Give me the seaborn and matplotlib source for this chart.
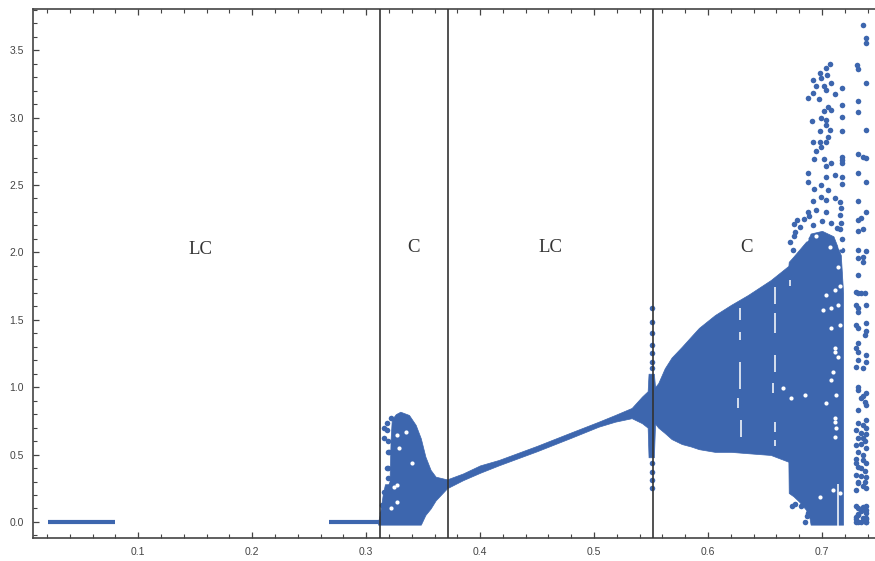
import pandas as pd
import matplotlib
matplotlib.use("Agg")
import matplotlib.pyplot as plt
from matplotlib.ticker import MultipleLocator
import seaborn as sns

BLUE = "#3D66AE"
DARK = "#444444"

# flat limit-cycle segments
flat1_x = [0.0208, 0.0794]
flat2_x = [0.2676, 0.3114]
flat_y = [0.0, 0.0]

# chaotic blob 0.31 - 0.37 and the band that follows it
band_x = [0.3105, 0.3125, 0.3145, 0.3165, 0.3195, 0.3205, 0.3215, 0.3225, 0.326, 0.33, 0.3376, 0.3435, 0.348,
          0.352, 0.3566, 0.361, 0.371, 0.385, 0.40, 0.4164, 0.45, 0.48, 0.504, 0.5185, 0.533, 0.542,
          0.547, 0.5478, 0.5525, 0.5535, 0.5563, 0.562, 0.568, 0.577, 0.585, 0.592, 0.606, 0.62, 0.635, 0.655, 0.6705,
          0.6708, 0.675, 0.68, 0.686, 0.689, 0.69, 0.70, 0.71, 0.7165, 0.7185]
band_hi = [0.0, 0.08, 0.2, 0.28, 0.28, 0.30, 0.62, 0.76, 0.80, 0.818, 0.794, 0.72, 0.62,
           0.485, 0.386, 0.336, 0.316, 0.36, 0.42, 0.46, 0.565, 0.665, 0.744, 0.794, 0.846, 0.93,
           0.97, 1.1, 1.1, 1.0, 1.03, 1.14, 1.22, 1.30, 1.375, 1.44, 1.535, 1.61, 1.684, 1.795, 1.90,
           1.93, 1.97, 2.02, 2.08, 2.12, 2.14, 2.16, 2.12, 1.98, 1.7]
band_lo = [-0.02, -0.02, -0.02, -0.02, -0.02, -0.02, -0.02, -0.02, -0.02, -0.02, -0.02, -0.02, -0.02,
           0.052, 0.10, 0.16, 0.25, 0.31, 0.365, 0.42, 0.525, 0.625, 0.707, 0.744, 0.77, 0.733,
           0.70, 0.48, 0.48, 0.73, 0.70, 0.66, 0.615, 0.578, 0.56, 0.54, 0.52, 0.52, 0.51, 0.497, 0.447,
           0.215, 0.19, 0.15, 0.09, 0.03, -0.02, -0.02, -0.02, -0.02, -0.02]

# scattered orbit points, (x, y)
crisis_dots = [(0.5507, v) for v in (1.585, 1.486, 1.399, 1.313, 1.251, 1.189, 1.14, 0.44, 0.373, 0.311, 0.25)]
right_dots = [
    (0.7359, 3.687), (0.7382, 3.588), (0.7382, 3.555), (0.7309, 3.39), (0.7315, 3.358), (0.7382, 3.254),
    (0.7315, 3.123), (0.7315, 3.039), (0.7382, 2.908), (0.7315, 2.73), (0.7359, 2.71), (0.7388, 2.70),
    (0.7315, 2.591), (0.7382, 2.522), (0.7315, 2.381), (0.7382, 2.297), (0.7344, 2.252), (0.7315, 2.24),
    (0.7359, 2.173), (0.7315, 2.161), (0.7315, 2.017), (0.7388, 2.012), (0.7359, 1.968), (0.7315, 1.956),
    (0.7359, 1.93), (0.7315, 1.832), (0.73, 1.708), (0.7373, 1.696), (0.7315, 1.70), (0.7344, 1.70),
    (0.73, 1.61), (0.7388, 1.61), (0.7315, 1.59), (0.7315, 1.56), (0.73, 1.461), (0.7382, 1.474),
    (0.7315, 1.44), (0.7373, 1.387), (0.7388, 1.42), (0.7315, 1.325), (0.73, 1.29), (0.7315, 1.263),
    (0.7382, 1.239), (0.7315, 1.2), (0.7388, 1.19), (0.73, 1.147), (0.7359, 1.14), (0.7315, 1.004),
    (0.7388, 0.954), (0.7344, 0.917), (0.7315, 0.831), (0.7388, 0.868), (0.7382, 0.756), (0.7315, 0.732),
    (0.7315, 0.98), (0.7359, 0.935), (0.7373, 0.89), (0.7359, 0.72), (0.7388, 0.70), (0.7344, 0.66),
    (0.73, 0.68), (0.7382, 0.65), (0.7315, 0.62), (0.7373, 0.60), (0.73, 0.57), (0.7388, 0.55),
    (0.7315, 0.52), (0.7359, 0.50), (0.73, 0.47), (0.7382, 0.44), (0.7315, 0.41), (0.7373, 0.38),
    (0.73, 0.35), (0.7388, 0.33), (0.7315, 0.30), (0.7359, 0.27), (0.73, 0.24), (0.7382, 0.25),
    (0.7344, 0.58), (0.7359, 0.46), (0.7344, 0.40), (0.7344, 0.34), (0.7359, 0.62), (0.73, 0.44),
    (0.7315, 0.29), (0.7373, 0.30), (0.73, 0.12), (0.7388, 0.09), (0.7315, 0.05), (0.7382, 0.03),
    (0.7359, 0.11), (0.7388, 0.02), (0.7315, 0.0), (0.73, 0.04), (0.7382, 0.07), (0.7315, 0.10),
    (0.7344, 0.0), (0.73, 0.02), (0.7388, 0.0), (0.7315, 0.06), (0.7359, 0.03), (0.73, 0.0), (0.7382, 0.0),
    (0.7388, 0.12), (0.7344, 0.08),
]
top_dots = [
    (0.7073, 3.395), (0.7032, 3.365), (0.698, 3.333), (0.7047, 3.316), (0.6921, 3.279), (0.6994, 3.291),
    (0.7082, 3.254), (0.695, 3.234), (0.7015, 3.234), (0.6921, 3.185), (0.7032, 3.204), (0.7178, 3.217),
    (0.7111, 3.172), (0.6878, 3.143), (0.6974, 3.135), (0.7178, 3.093), (0.7053, 3.081), (0.7015, 3.049),
    (0.7082, 3.056), (0.7178, 3.007), (0.6916, 2.974), (0.6988, 2.994), (0.7038, 2.982), (0.7038, 2.945),
    (0.698, 2.9), (0.7067, 2.908), (0.7178, 2.903), (0.7053, 2.858), (0.6921, 2.821), (0.698, 2.821),
    (0.7038, 2.821), (0.6994, 2.784), (0.695, 2.754), (0.6927, 2.692), (0.7015, 2.692), (0.7082, 2.66),
    (0.7038, 2.643), (0.7178, 2.685), (0.7178, 2.66), (0.7178, 2.71), (0.6878, 2.591), (0.6878, 2.524),
    (0.7038, 2.561), (0.7111, 2.574), (0.7178, 2.56), (0.7178, 2.51), (0.6994, 2.5), (0.6927, 2.467),
    (0.7053, 2.462), (0.6921, 2.381), (0.6994, 2.413), (0.7038, 2.388), (0.7111, 2.401), (0.7161, 2.376),
    (0.7169, 2.327), (0.716, 2.277), (0.695, 2.314), (0.6878, 2.302), (0.7038, 2.302),
    (0.684, 2.25), (0.689, 2.27), (0.672, 2.08), (0.676, 2.15), (0.6755, 2.21), (0.678, 2.24),
    (0.6755, 2.12), (0.6745, 2.02), (0.681, 2.19), (0.692, 2.20), (0.70, 2.23), (0.708, 2.22), (0.713, 2.18),
    (0.716, 2.17), (0.7175, 2.10), (0.7175, 2.02), (0.7165, 2.22),
]
lower_dots = [(0.6735, 0.12), (0.6765, 0.135), (0.682, 0.12), (0.6865, 0.045), (0.6855, 0.0), (0.688, 0.07)]
left_dots = [
    (0.3158, 0.62), (0.3187, 0.398), (0.3195, 0.40), (0.3193, 0.324), (0.3187, 0.732), (0.3216, 0.769),
    (0.3201, 0.521), (0.3188, 0.52), (0.3158, 0.694), (0.3187, 0.682), (0.3195, 0.60), (0.3158, 0.225),
    (0.3143, 0.126), (0.3143, 0.064),
]
all_dots = crisis_dots + right_dots + top_dots + lower_dots + left_dots
dots_x = [p[0] for p in all_dots]
dots_y = [p[1] for p in all_dots]

# white slits in the filled region: x, lower y, upper y
slit_x = [0.6283, 0.6283, 0.6283, 0.6265, 0.6285, 0.6587, 0.6587, 0.6587, 0.6587, 0.6587, 0.6572, 0.6717, 0.7143]
slit_lo = [1.498, 1.35, 0.99, 0.843, 0.633, 1.62, 1.40, 1.115, 0.67, 0.56, 0.955, 1.75, -0.03]
slit_hi = [1.585, 1.41, 1.19, 0.917, 0.756, 1.745, 1.55, 1.24, 0.745, 0.61, 1.03, 1.795, 0.28]

# white holes near the end of the chaotic regions
hole_x = [0.7038, 0.7111, 0.7009, 0.7082, 0.714, 0.7155, 0.7082, 0.7111, 0.714, 0.7096, 0.7082, 0.7126,
          0.6849, 0.6659, 0.6732, 0.7038, 0.7111, 0.7111, 0.7096, 0.698, 0.7155,
          0.6863, 0.7067, 0.7155, 0.714, 0.6805, 0.695, 0.7111, 0.7124, 0.7111, 0.7155,
          0.3274, 0.3353, 0.3289, 0.3274, 0.34, 0.3274, 0.3216, 0.3245]
hole_y = [1.684, 1.721, 1.572, 1.585, 1.61, 1.461, 1.436, 1.288, 1.226, 1.115, 1.053, 0.942,
          0.942, 0.991, 0.917, 0.885, 0.769, 0.633, 0.237, 0.188, 0.212,
          2.10, 2.042, 2.042, 1.894, 2.09, 2.12, 0.74, 0.70, 1.26, 1.75,
          0.645, 0.67, 0.546, 0.274, 0.435, 0.15, 0.101, 0.262]

# regime boundaries and labels
boundary_x = [0.3120, 0.3715, 0.5517]
label_text = ["LC", "C", "LC", "C"]
label_x = [0.1542, 0.3418, 0.4618, 0.634]
label_y = [2.02, 2.04, 2.04, 2.04]

x_major = [0.1, 0.2, 0.3, 0.4, 0.5, 0.6, 0.7]
y_major = [0.0, 0.5, 1.0, 1.5, 2.0, 2.5, 3.0, 3.5]

sns.set_theme(style="white")
fig = plt.figure(figsize=(8.75, 5.61), dpi=100)
ax = fig.add_axes([33 / 875, 1 - 538 / 561, 842 / 875, (538 - 9) / 561])

ax.fill_between(band_x, band_lo, band_hi, color=BLUE, lw=0.5, zorder=2)
sns.lineplot(x=flat1_x, y=flat_y, ax=ax, color=BLUE, lw=3, solid_capstyle="butt", zorder=2)
sns.lineplot(x=flat2_x, y=flat_y, ax=ax, color=BLUE, lw=3, solid_capstyle="butt", zorder=2)
sns.scatterplot(data=pd.DataFrame({"x": dots_x, "y": dots_y}), x="x", y="y", ax=ax,
                color=BLUE, s=16, linewidth=0, zorder=2)
ax.vlines(slit_x, slit_lo, slit_hi, color="white", lw=1.1, zorder=3)
sns.scatterplot(x=hole_x, y=hole_y, ax=ax, color="white", s=9, linewidth=0, zorder=3)
for b in boundary_x:
    ax.axvline(b, color="#333333", lw=1.2, zorder=4)
for t, x, y in zip(label_text, label_x, label_y):
    ax.text(x, y, t, family="Liberation Serif", fontsize=13.5, color="#333333", ha="center", va="center")

ax.set_xlim(0.0077, 0.7465)
ax.set_ylim(-0.119, 3.806)
ax.set_xticks(x_major)
ax.set_yticks(y_major)
ax.set_xticklabels([f"{v:.1f}" for v in x_major])
ax.set_yticklabels([f"{v:.1f}" for v in y_major])
ax.xaxis.set_minor_locator(MultipleLocator(0.02))
ax.yaxis.set_minor_locator(MultipleLocator(0.1))
ax.tick_params(which="major", direction="in", length=4.5, width=0.9, color=DARK, top=True, right=False,
               bottom=True, left=True, labelsize=7.5, labelcolor="#444444", pad=6.5)
ax.tick_params(which="minor", direction="in", length=2.7, width=0.8, color=DARK, top=True, right=False,
               bottom=True, left=True)
for lab in ax.get_xticklabels() + ax.get_yticklabels():
    lab.set_family("Liberation Sans")
for side, s in ax.spines.items():
    s.set_color(DARK)
    s.set_linewidth(1.2)
ax.spines["right"].set_visible(False)
ax.set_xlabel("")
ax.set_ylabel("")
fig.savefig("out.png", dpi=100)
